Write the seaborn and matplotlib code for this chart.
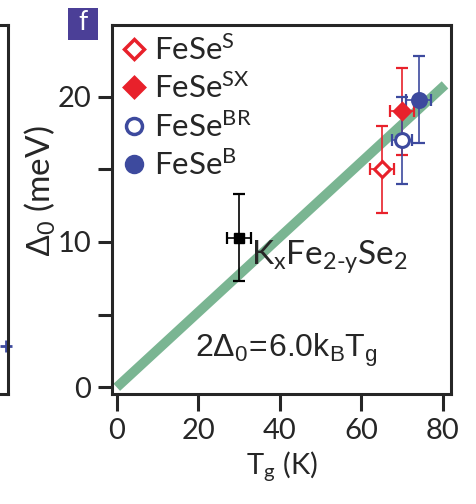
import numpy as np
import pandas as pd
import matplotlib
matplotlib.use("Agg")
import matplotlib.pyplot as plt
from matplotlib.lines import Line2D
from matplotlib.patches import Rectangle
import seaborn as sns

# Gap magnitude versus gap-closing temperature
labels = ["FeSe$^{S}$", "FeSe$^{SX}$", "FeSe$^{BR}$", "FeSe$^{B}$"]
tg = [65, 70, 70, 74]
delta0 = [15.0, 19.0, 17.0, 19.8]
tg_err = [3, 3, 2.5, 3]
delta0_err = [3, 3, 3, 3]

kfs_tg = [30]
kfs_delta0 = [10.3]
kfs_tg_err = [3]
kfs_delta0_err = [3]

# BCS-type ratio 2*Delta0 = r * kB * Tg
ratio = 6.0
kB = 0.08617  # meV/K
fit_tg = [0, 80.5]

RED = "#e8212b"
BLUE = "#3d4a9e"
GREEN = "#7ab592"

sns.set_style("ticks")
plt.rcParams["font.family"] = ["Lato", "DejaVu Sans"]
plt.rcParams["mathtext.fontset"] = "custom"
plt.rcParams["mathtext.rm"] = "Lato"
plt.rcParams["mathtext.it"] = "Lato"
plt.rcParams["mathtext.sf"] = "Liberation Sans"
plt.rcParams["mathtext.default"] = "rm"

fig = plt.figure(figsize=(4.77, 5.04), dpi=100)
ax = fig.add_axes([0.2354, 0.2183, 0.7095, 0.7321])

# neighbouring panel edge
axl = fig.add_axes([-0.3, 0.2183, 0.3 + 8 / 477, 0.7321])
for s in ["top", "right", "bottom"]:
    axl.spines[s].set_linewidth(2.2)
axl.spines["left"].set_visible(False)
axl.set_xticks([])
axl.set_yticks([])
axl.set_xlim(0, 1)
axl.set_ylim(0, 1)
axl.plot([0.985], [0.13], marker="+", color=BLUE, ms=9, mew=2, clip_on=False)

# linear relation line
fit_df = pd.DataFrame({"Tg": fit_tg,
                       "D": [ratio * kB * t / 2 for t in fit_tg]})
sns.lineplot(data=fit_df, x="Tg", y="D", ax=ax, color=GREEN, lw=7,
             solid_capstyle="butt", zorder=1, legend=False)

styles = [
    dict(marker="D", mfc="white", mec=RED, color=RED, ms=8.5),
    dict(marker="D", mfc=RED, mec=RED, color=RED, ms=8.5),
    dict(marker="o", mfc="white", mec=BLUE, color=BLUE, ms=10),
    dict(marker="o", mfc=BLUE, mec=BLUE, color=BLUE, ms=10),
]
for i in range(4):
    st = styles[i]
    ax.errorbar(tg[i], delta0[i], xerr=tg_err[i], yerr=delta0_err[i],
                fmt="none", ecolor=st["color"], elinewidth=1.2,
                capsize=4.5, capthick=1.6, zorder=3)
    ax.plot(tg[i], delta0[i], marker=st["marker"], mfc=st["mfc"],
            mec=st["mec"], ms=st["ms"], mew=2.2, ls="none", zorder=4)

ax.errorbar(kfs_tg, kfs_delta0, xerr=kfs_tg_err, yerr=kfs_delta0_err,
            fmt="s", color="black", ms=7, elinewidth=1.2, capsize=4.5,
            capthick=1.6, zorder=3)

handles = [Line2D([], [], ls="none", marker=s["marker"], mfc=s["mfc"],
                  mec=s["mec"], ms=s["ms"] * 1.15, mew=2.5) for s in styles]
ax.legend(handles, labels, loc="upper left", frameon=False, fontsize=22.5,
          handlelength=0.8, handletextpad=0.25, labelspacing=0.25,
          borderaxespad=0.1, borderpad=0.2)

ax.text(33.0, 8.5, "K$_x$Fe$_{2\u2010y}$Se$_2$", fontsize=24, ha="left",
        va="baseline")
ax.text(19.2, 2.1, r"$\mathsf{2\Delta_0\!=\!6.0k_BT_g}$", fontsize=23,
        ha="left", va="baseline")

ax.set_xlim(-1.1, 81.9)
ax.set_ylim(-0.46, 24.93)
ax.set_xticks([0, 20, 40, 60, 80])
ax.set_yticks([0, 10, 20])
ax.set_yticks([5, 15], minor=True)
ax.tick_params(axis="x", length=12, width=2.2, pad=5, labelsize=21)
ax.tick_params(axis="y", which="both", length=10, width=2.2, pad=5,
               labelsize=21)
for s in ax.spines.values():
    s.set_linewidth(2.2)
    s.set_visible(True)

ax.set_xlabel("T$_g$ (K)", fontsize=21, labelpad=4)
ax.set_ylabel(r"$\mathsf{\Delta}_0$ (meV)", fontsize=24)
ax.yaxis.set_label_coords(-0.16, 0.55)

# panel tag
fig.add_artist(Rectangle((68 / 477, 1 - 40 / 504), 30 / 477, 32 / 504,
                         transform=fig.transFigure, fc="#4b3f97", ec="none"))
fig.text(83 / 477, 1 - 23 / 504, "f", color="white", fontsize=19,
         ha="center", va="center")

fig.savefig("out.png", dpi=100)
